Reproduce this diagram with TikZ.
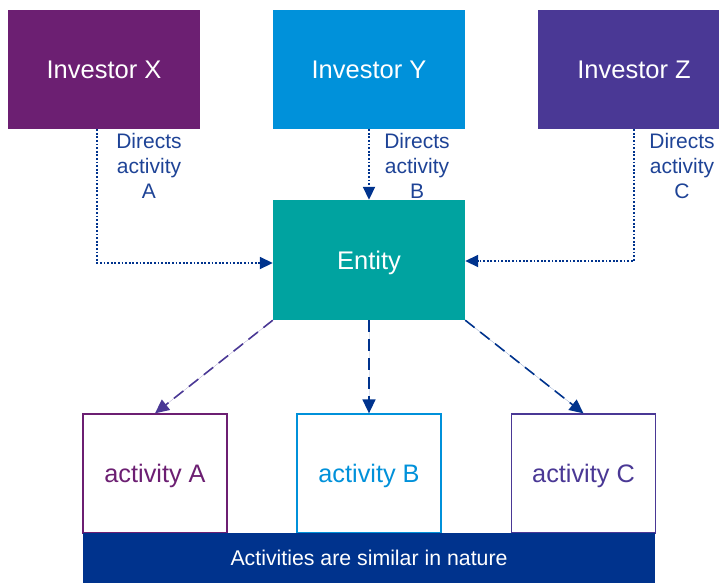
\documentclass[tikz,border=0pt]{standalone}
\usepackage{fontspec}
\setmainfont{Liberation Sans}
\usetikzlibrary{arrows.meta}
\definecolor{cX}{HTML}{6C1F72}
\definecolor{cY}{HTML}{0091DA}
\definecolor{cZ}{HTML}{4A3895}
\definecolor{cEnt}{HTML}{00A3A0}
\definecolor{cBar}{HTML}{00338D}
\definecolor{cLbl}{HTML}{1E4396}
\tikzset{
  invbox/.style={draw=none, inner sep=0pt, minimum width=192pt, minimum height=119pt, text=white, font=\fontsize{25.5}{30}\selectfont},
  actbox/.style={fill=white, line width=1.3pt, inner sep=0pt, minimum width=144pt, minimum height=119pt, text depth=0pt, font=\fontsize{25.3}{30}\selectfont},
  lbl/.style={text=cLbl, align=center, inner sep=0pt, font=\fontsize{21}{25}\selectfont},
  dotline/.style={draw=cBar, line width=1.8pt, dash pattern=on 1.8pt off 1.8pt, -{Triangle[length=13pt,width=12pt]}},
  dashline/.style={line width=1.6pt, dash pattern=on 12pt off 7pt, -{Triangle[length=14pt,width=13pt]}}
}
\begin{document}
\begin{tikzpicture}[x=1pt,y=-1pt]
\useasboundingbox (0,0) rectangle (719,582);
\clip (0,0) rectangle (719,582);
\node[invbox, fill=cX] (xinv) at (104,69.5) {Investor X};
\node[invbox, fill=cY] (yinv) at (369,69.5) {Investor Y};
\node[invbox, fill=cZ] (zinv) at (634,69.5) {Investor Z};
\node[invbox, fill=cEnt, minimum height=120pt, text depth=0pt] (ent) at (369,260) {Entity};
\node[actbox, draw=cX, text=cX] (acta) at (155,473.5) {activity A};
\node[actbox, draw=cY, text=cY] (actb) at (369,473.5) {activity B};
\node[actbox, draw=cZ, text=cZ] (actc) at (583.5,473.5) {activity C};
\node[fill=cBar, inner sep=0pt, minimum width=572pt, minimum height=50pt, text=white, font=\fontsize{21.3}{25}\selectfont] (bar) at (369,558) {Activities are similar in nature};
\node[lbl] (la) at (149,166) {Directs\\activity\\A};
\node[lbl] (lb) at (417,166) {Directs\\activity\\B};
\node[lbl] (lc) at (682,166) {Directs\\activity\\C};
\draw[dotline] ([xshift=-7pt]xinv.south) |- ([yshift=-3pt]ent.west);
\draw[dotline] (yinv.south) -- (ent.north);
\draw[dotline] (zinv.south) |- ([yshift=-1pt]ent.east);
\draw[dashline, draw=cZ, fill=cZ] (ent.south west) -- (acta.north);
\draw[dashline, draw=cBar, fill=cBar] (ent.south) -- (actb.north);
\draw[dashline, draw=cBar, fill=cBar] (ent.south east) -- (actc.north);
\end{tikzpicture}
\end{document}
